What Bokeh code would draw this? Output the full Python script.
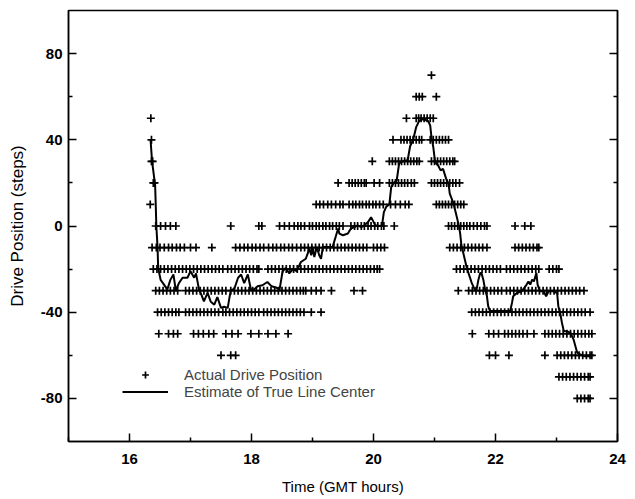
from bokeh.plotting import figure
from bokeh.models import Range1d, FixedTicker, LinearAxis, Legend, LegendItem
from bokeh.embed import file_html
from bokeh.resources import INLINE

# ---- data ----
# times (GMT hours) of the measured drive positions, one list per position level (steps)
t_p70 = [20.95]
t_p60 = [20.70, 20.75, 20.80, 21.03]
t_p50 = [16.35, 20.54, 20.70, 20.74, 20.78, 20.83, 20.88, 20.93, 20.98]
t_p40 = [16.36, 20.32, 20.45, 20.50, 20.55, 20.60, 20.65, 20.70, 20.75, 20.79,
         20.93, 20.98, 21.03, 21.08, 21.13, 21.18, 21.23]
t_p30 = [16.36, 16.38, 19.98, 20.26, 20.31, 20.36, 20.41, 20.46, 20.51, 20.56,
         20.61, 20.66, 20.71, 20.75, 20.95, 21.00, 21.05, 21.10, 21.15, 21.20,
         21.25, 21.30, 21.33]
t_p20 = [16.39, 16.41, 19.42, 19.60, 19.65, 19.70, 19.75, 19.80, 19.85, 19.88,
         20.01, 20.10, 20.26, 20.31, 20.36, 20.41, 20.46, 20.51, 20.56, 20.62,
         20.67, 20.95, 21.00, 21.05, 21.10, 21.15, 21.20, 21.25, 21.30, 21.35, 21.41]
t_p10 = [16.34, 19.06, 19.12, 19.18, 19.25, 19.31, 19.38, 19.45, 19.50, 19.60,
         19.66, 19.71, 19.77, 19.82, 19.88, 19.93, 19.99, 20.04, 20.10, 20.16,
         20.28, 20.36, 20.44, 20.52, 20.58, 21.03, 21.08, 21.13, 21.18, 21.23,
         21.28, 21.33, 21.38, 21.43, 21.48]
t_0 = [16.43, 16.51, 16.59, 16.67, 16.76, 17.66, 18.12, 18.17, 18.46, 18.54,
       18.62, 18.70, 18.76, 18.81, 18.87, 18.95, 19.00, 19.06, 19.11, 19.17,
       19.22, 19.28, 19.33, 19.39, 19.44, 19.50, 19.63, 19.69, 19.74, 19.80,
       19.85, 19.91, 19.96, 20.02, 20.07, 20.13, 20.17, 20.34, 21.23, 21.28,
       21.33, 21.38, 21.43, 21.48, 21.53, 21.58, 21.64, 21.70, 21.76, 21.82,
       21.86, 22.32, 22.48, 22.58]
t_m10 = [16.37, 16.44, 16.50, 16.57, 16.64, 16.70, 16.77, 16.83, 16.90, 17.00,
         17.09, 17.35, 17.74, 17.81, 17.88, 17.94, 18.01, 18.07, 18.14, 18.20,
         18.28, 18.35, 18.41, 18.48, 18.54, 18.61, 18.67, 18.74, 18.81, 18.87,
         18.93, 18.99, 19.05, 19.11, 19.17, 19.23, 19.29, 19.35, 19.41, 19.47,
         19.53, 19.59, 19.65, 19.71, 19.77, 19.83, 19.89, 20.00, 20.06, 20.12,
         20.18, 21.25, 21.31, 21.37, 21.43, 21.49, 21.55, 21.61, 21.67, 21.73,
         21.79, 21.86, 22.32, 22.38, 22.44, 22.50, 22.56, 22.62, 22.68, 22.71]
t_m20 = [16.39, 16.45, 16.51, 16.57, 16.63, 16.69, 16.75, 16.81, 16.87, 16.93,
         16.99, 17.05, 17.11, 17.17, 17.23, 17.29, 17.35, 17.41, 17.47, 17.53,
         17.61, 17.67, 17.73, 17.79, 17.85, 17.91, 17.97, 18.03, 18.09, 18.12,
         18.27, 18.33, 18.39, 18.45, 18.51, 18.57, 18.63, 18.69, 18.75, 18.81,
         18.87, 18.93, 18.99, 19.05, 19.11, 19.17, 19.23, 19.29, 19.35, 19.41,
         19.47, 19.53, 19.59, 19.65, 19.71, 19.77, 19.83, 19.89, 19.95, 20.01,
         20.06, 20.10, 21.36, 21.42, 21.48, 21.54, 21.60, 21.66, 21.72, 21.78,
         21.84, 21.90, 21.96, 22.02, 22.08, 22.18, 22.24, 22.30, 22.36, 22.42,
         22.48, 22.54, 22.60, 22.66, 22.71, 22.88, 22.94, 23.00, 23.04]
t_m30 = [16.43, 16.49, 16.55, 16.61, 16.67, 16.73, 16.79, 16.92, 16.98, 17.04,
         17.10, 17.16, 17.22, 17.28, 17.34, 17.40, 17.46, 17.52, 17.58, 17.66,
         17.72, 17.78, 17.84, 17.90, 17.96, 18.02, 18.08, 18.14, 18.20, 18.26,
         18.32, 18.38, 18.44, 18.50, 18.56, 18.62, 18.68, 18.74, 18.80, 18.85,
         18.89, 18.98, 19.06, 19.14, 19.31, 19.68, 19.82, 21.39, 21.56, 21.62,
         21.68, 21.74, 21.80, 21.86, 21.92, 21.98, 22.04, 22.10, 22.18, 22.24,
         22.30, 22.36, 22.42, 22.48, 22.54, 22.60, 22.66, 22.72, 22.78, 22.84,
         22.90, 22.96, 23.02, 23.08, 23.14, 23.20, 23.26, 23.32, 23.38, 23.45]
t_m40 = [16.46, 16.52, 16.58, 16.64, 16.70, 16.76, 16.81, 16.92, 16.98, 17.04,
         17.10, 17.16, 17.22, 17.28, 17.34, 17.40, 17.46, 17.53, 17.58, 17.64,
         17.70, 17.76, 17.82, 17.88, 17.94, 18.00, 18.06, 18.12, 18.20, 18.26,
         18.32, 18.38, 18.44, 18.50, 18.56, 18.62, 18.68, 18.74, 18.80, 18.86,
         18.98, 19.14, 21.61, 21.67, 21.73, 21.79, 21.85, 21.91, 21.97, 22.03,
         22.09, 22.15, 22.21, 22.27, 22.33, 22.39, 22.45, 22.51, 22.57, 22.63,
         22.69, 22.75, 22.81, 22.87, 22.93, 22.99, 23.05, 23.11, 23.17, 23.23,
         23.29, 23.35, 23.41, 23.47, 23.55]
t_m50 = [16.48, 16.64, 16.72, 16.79, 17.05, 17.13, 17.21, 17.30, 17.38, 17.58,
         17.68, 17.78, 17.99, 18.12, 18.27, 18.40, 18.60, 21.62, 21.89, 21.97,
         22.05, 22.15, 22.21, 22.27, 22.33, 22.39, 22.45, 22.52, 22.63, 22.81,
         22.87, 22.93, 22.99, 23.05, 23.11, 23.17, 23.23, 23.29, 23.35, 23.41,
         23.47, 23.53, 23.58]
t_m60 = [17.50, 17.66, 17.74, 21.90, 22.00, 22.22, 22.81, 23.01, 23.07, 23.13,
         23.19, 23.25, 23.31, 23.37, 23.43, 23.49, 23.55, 23.58]
t_m70 = [23.04, 23.10, 23.16, 23.22, 23.28, 23.34, 23.40, 23.46, 23.52, 23.55]
t_m80 = [23.34, 23.40, 23.46, 23.52, 23.55]

levels = [70, 60, 50, 40, 30, 20, 10, 0, -10, -20, -30, -40, -50, -60, -70, -80]
level_times = [t_p70, t_p60, t_p50, t_p40, t_p30, t_p20, t_p10, t_0,
               t_m10, t_m20, t_m30, t_m40, t_m50, t_m60, t_m70, t_m80]

# estimate of true line center (time, steps)
line_t = [16.345, 16.37, 16.42, 16.43, 16.44, 16.46, 16.47, 16.51, 16.56, 16.62,
          16.67, 16.72, 16.76, 16.81, 16.87, 16.95, 17.00, 17.06, 17.09, 17.14,
          17.18, 17.22, 17.28, 17.33, 17.39, 17.44, 17.50, 17.55, 17.61, 17.64,
          17.66, 17.72, 17.78, 17.83, 17.88, 17.94, 17.99, 18.04, 18.10, 18.18,
          18.26, 18.33, 18.40, 18.46, 18.51, 18.56, 18.62, 18.68, 18.74, 18.81,
          18.89, 18.95, 18.98, 19.00, 19.03, 19.07, 19.11, 19.14, 19.17, 19.22,
          19.33, 19.38, 19.42, 19.44, 19.50, 19.58, 19.63, 19.69, 19.74, 19.80,
          19.85, 19.91, 19.96, 19.99, 20.03, 20.10, 20.14, 20.17, 20.21, 20.26,
          20.29, 20.33, 20.38, 20.42, 20.48, 20.56, 20.60, 20.65, 20.70, 20.75,
          20.79, 20.84, 20.90, 20.93, 20.95, 20.98, 21.01, 21.06, 21.10, 21.14,
          21.19, 21.23, 21.25, 21.31, 21.35, 21.39, 21.42, 21.44, 21.53, 21.61,
          21.66, 21.69, 21.72, 21.75, 21.77, 21.80, 21.83, 21.86, 21.88, 21.91,
          22.02, 22.16, 22.24, 22.27, 22.29, 22.35, 22.43, 22.51, 22.54, 22.57,
          22.60, 22.63, 22.67, 22.69, 22.73, 22.79, 22.83, 22.87, 22.95, 23.01,
          23.03, 23.06, 23.09, 23.12, 23.17, 23.23, 23.28, 23.31, 23.34, 23.39,
          23.45, 23.53, 23.56]
line_v = [40, 30, 19, 10, 0, -10, -19.5, -25, -27, -29.5,
          -25, -22.5, -30, -26.5, -24, -24, -21, -24, -22, -29.5,
          -32, -35, -31, -35, -36.5, -33, -38, -37.5, -38, -33,
          -30, -29, -24, -22.5, -26.5, -22.5, -29.5, -29.5, -28, -27.5,
          -26, -28, -28.5, -29.5, -21, -19.5, -22, -20, -21, -16.7,
          -15.2, -10.5, -13.6, -9.7, -14.4, -9.7, -13.6, -15.2, -9.7, -9.7,
          -9.7, -5, -1.2, -3.5, -4.3, -3.5, -1.2, -0.5, 0.3, -0.5,
          0.3, 1.8, 4.1, 2.5, 0.3, 0, 0.3, 6.4, 9, 10,
          18, 20, 21, 29, 30, 30.5, 37, 40, 45.9, 48.9,
          49.4, 49.4, 48.6, 46.6, 41.2, 36.6, 29.6, 28.1, 25.8, 26.5,
          22, 19.7, 15, 10.6, 6, 1.3, -3.3, -8.7, -19.5, -26.4,
          -29.5, -29.5, -24.9, -21.8, -21.8, -24.9, -29.5, -32.6, -37.2, -39.5,
          -39.5, -39.5, -39.5, -35.7, -32.6, -31.1, -30.3, -27.2, -25.7, -27.2,
          -24.9, -25.7, -21.8, -27.2, -30.3, -30.3, -32.6, -30.3, -30.3, -31.1,
          -37.2, -40.3, -45, -48.8, -48.8, -49.6, -52.7, -55.8, -58.8, -59.6,
          -60.4, -60.4, -60.7]

x_major = [16, 18, 20, 22, 24]
x_minor = [15, 17, 19, 21, 23]
y_major = [-80, -40, 0, 40, 80]
y_minor = [-60, -20, 20, 60]
y_labels = {-80: "-80", -40: "-40", 0: "0", 40: "40", 80: "80"}

# ---- build points ----
px, py = [], []
for lv, ts in zip(levels, level_times):
    px.extend(ts)
    py.extend([lv] * len(ts))

FONT = "Liberation Sans"

p = figure(width=635, height=499, output_backend="svg", toolbar_location=None,
           x_range=Range1d(15, 24), y_range=Range1d(-100, 100),
           min_border_left=68, min_border_right=18, min_border_top=10,
           min_border_bottom=58)
p.grid.visible = False
p.outline_line_color = "black"
p.outline_line_width = 1.5
p.background_fill_color = "white"
p.border_fill_color = "white"

pts = p.scatter(px, py, marker="cross", size=8, line_width=1.7, color="black")
ln = p.line(line_t, line_v, line_width=2, color="black")

for ax, maj, mnr in ((p.xaxis[0], x_major, x_minor), (p.yaxis[0], y_major, y_minor)):
    ax.ticker = FixedTicker(ticks=maj, minor_ticks=mnr)
    ax.major_tick_in = 8
    ax.major_tick_out = 0
    ax.minor_tick_in = 4
    ax.minor_tick_out = 0
    ax.axis_line_width = 1.5
    ax.major_tick_line_width = 1.5
    ax.minor_tick_line_width = 1.5
    ax.major_label_text_font = FONT
    ax.major_label_text_font_size = "15px"
    ax.major_label_text_font_style = "bold"
    ax.major_label_text_color = "black"
    ax.axis_label_text_font = FONT
    ax.axis_label_text_font_style = "normal"
    ax.axis_label_text_color = "black"

p.yaxis.major_label_overrides = y_labels
p.xaxis.axis_label = "Time (GMT hours)"
p.yaxis.axis_label = "Drive Position (steps)"
p.xaxis.axis_label_text_font_size = "15px"
p.yaxis.axis_label_text_font_size = "17px"
p.xaxis.major_label_standoff = 12
p.xaxis.axis_label_standoff = 11
p.yaxis.major_label_standoff = 6
p.yaxis.axis_label_standoff = 11

raxis = LinearAxis(ticker=FixedTicker(ticks=y_major, minor_ticks=y_minor))
raxis.major_tick_in = 8
raxis.major_tick_out = 0
raxis.minor_tick_in = 4
raxis.minor_tick_out = 0
raxis.axis_line_width = 1.5
raxis.major_tick_line_width = 1.5
raxis.minor_tick_line_width = 1.5
raxis.major_label_text_color = None
raxis.major_label_text_alpha = 0
raxis.major_label_standoff = 0
p.add_layout(raxis, "right")

legend = Legend(items=[LegendItem(label="Actual Drive Position", renderers=[pts]),
                       LegendItem(label="Estimate of True Line Center", renderers=[ln])],
                location=(54, 41))
legend.border_line_alpha = 0
legend.background_fill_alpha = 0
legend.label_text_font = FONT
legend.label_text_font_size = "15px"
legend.glyph_width = 46
legend.glyph_height = 17
legend.label_height = 17
legend.label_standoff = 16
legend.spacing = 0
legend.padding = 0
legend.margin = 0
p.add_layout(legend)

open("out.html", "w").write(file_html(p, INLINE))
